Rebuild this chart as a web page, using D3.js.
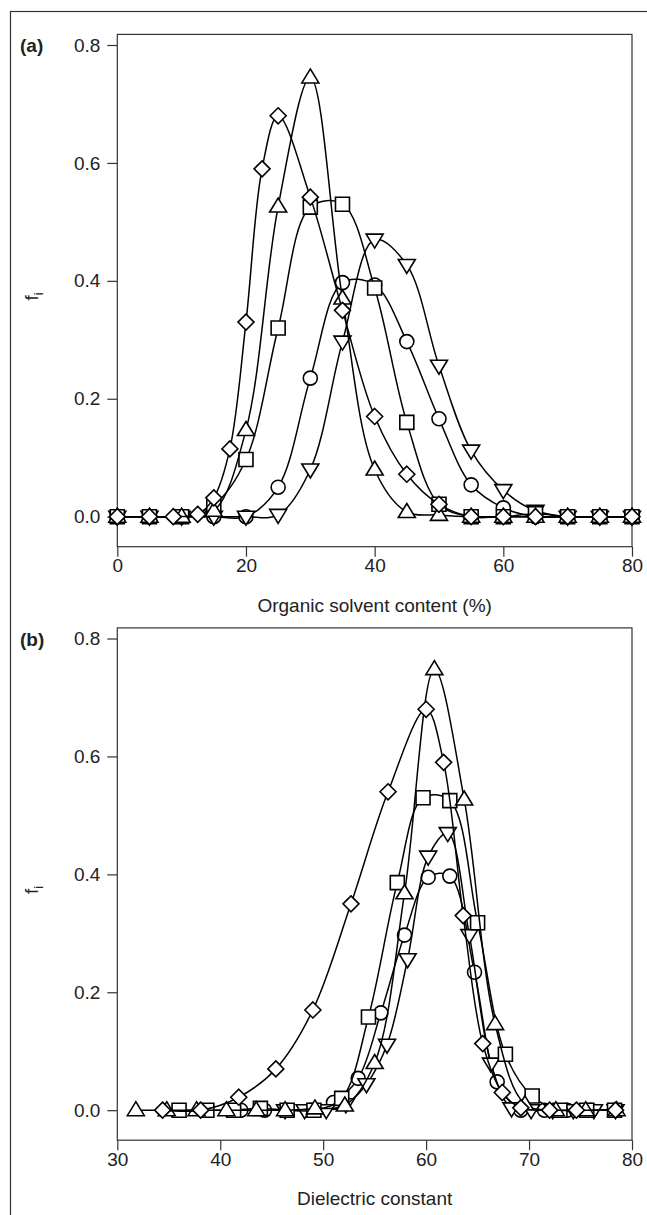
<!DOCTYPE html>
<html>
<head>
<meta charset="utf-8">
<script src="https://cdn.jsdelivr.net/npm/d3@7"></script>
<style>
  body { margin: 0; background: #fff; }
  svg text { font-family: "Liberation Sans", Arial, sans-serif; fill: #222; }
</style>
</head>
<body>
<div id="chart"></div>
<script>
//canvas size
const width = 647;
const height = 1215;

//panel (a): organic solvent content (%)
const pctDiamond = [0, 5, 8.7, 12.5, 15, 17.5, 20, 22.5, 25, 30, 35, 40, 45, 50, 55, 60, 65, 70, 75, 80];
const pctStep = [0, 5, 10, 15, 20, 25, 30, 35, 40, 45, 50, 55, 60, 65, 70, 75, 80];

const fDiamondA = [0, 0, 0, 0.004, 0.032, 0.115, 0.33, 0.59, 0.68, 0.542, 0.35, 0.17, 0.072, 0.021, 0, 0, 0, 0, 0, 0];
const fTriUpA = [0, 0, 0, 0.01, 0.147, 0.526, 0.745, 0.37, 0.08, 0.008, 0.003, 0, 0, 0, 0, 0, 0];
const fSquareA = [0, 0, 0, 0.02, 0.097, 0.32, 0.525, 0.53, 0.388, 0.16, 0.021, 0, 0, 0.005, 0, 0, 0];
const fCircleA = [0, 0, 0, 0, 0, 0.05, 0.235, 0.397, 0.393, 0.297, 0.166, 0.054, 0.015, 0, 0, 0, 0];
const fTriDownA = [0, 0, 0, 0, 0, 0.003, 0.08, 0.297, 0.47, 0.427, 0.256, 0.112, 0.045, 0.01, 0, 0, 0];

//panel (b): dielectric constant
const epsDiamond = [78.4, 74.6, 72.0, 69.2, 67.4, 65.5, 63.6, 61.7, 60.0, 56.3, 52.7, 49.0, 45.4, 41.8, 38.1, 34.4];
const epsTriUp = [78.5, 75.5, 72.6, 69.6, 66.7, 63.7, 60.8, 57.9, 55.0, 52.1, 49.2, 46.3, 43.5, 40.6, 37.7, 34.8, 31.8];
const epsSquare = [78.3, 75.6, 73.0, 70.3, 67.7, 65.0, 62.3, 59.7, 57.2, 54.4, 51.8, 49.1, 46.5, 43.9, 41.3, 38.7, 36.0];
const epsCircle = [78.3, 76.0, 73.7, 71.5, 69.2, 66.9, 64.7, 62.3, 60.2, 57.9, 55.6, 53.4, 51.0, 48.8, 46.5, 44.3, 42.0];
const epsTriDown = [78.4, 76.3, 74.3, 72.3, 70.2, 68.3, 66.3, 64.2, 62.1, 60.2, 58.2, 56.2, 54.2, 52.2, 50.3, 48.2, 46.3];

const fDiamondB = [0, 0, 0, 0.004, 0.03, 0.113, 0.33, 0.59, 0.68, 0.54, 0.35, 0.17, 0.07, 0.022, 0, 0];
const fTriUpB = [0, 0, 0, 0.01, 0.146, 0.527, 0.748, 0.368, 0.08, 0.008, 0.003, 0, 0, 0, 0, 0, 0];
const fSquareB = [0, 0, 0, 0.024, 0.095, 0.318, 0.525, 0.53, 0.386, 0.158, 0.02, 0, 0, 0.003, 0, 0, 0];
const fCircleB = [0, 0, 0, 0, 0, 0.048, 0.234, 0.397, 0.395, 0.297, 0.165, 0.054, 0.013, 0, 0, 0, 0];
const fTriDownB = [0, 0, 0, 0, 0, 0.003, 0.079, 0.297, 0.47, 0.43, 0.256, 0.111, 0.044, 0.01, 0, 0, 0];

//tick labels
const yTicks = [0, 0.2, 0.4, 0.6, 0.8];
const xTicksA = [0, 20, 40, 60, 80];
const xTicksB = [30, 40, 50, 60, 70, 80];

//marker shapes (white filled, black outline)
const shapes = {
  circle: "M7,0A7,7 0 1,1 -7,0A7,7 0 1,1 7,0Z",
  square: "M-7,-7H7V7H-7Z",
  diamond: "M0,-8L8,0L0,8L-8,0Z",
  triUp: "M0,-8.5L8.5,5.5L-8.5,5.5Z",
  triDown: "M0,8.5L8.5,-5.5L-8.5,-5.5Z"
};

const svg = d3.select("#chart")
  .append("svg")
  .attr("width", width)
  .attr("height", height);

//outer frame (runs off the right and bottom edges)
svg.append("rect")
  .attr("x", 10.5)
  .attr("y", 11.5)
  .attr("width", 700)
  .attr("height", 1300)
  .attr("fill", "none")
  .attr("stroke", "#333")
  .attr("stroke-width", 1.2);

function drawPanel(opts) {
  const x = d3.scaleLinear().domain(opts.xDomain).range([117.3, 632]);
  const y = d3.scaleLinear().domain([-0.0509, 0.818]).range([opts.top + 512.3, opts.top]);
  const g = svg.append("g");

  //plot box
  g.append("rect")
    .attr("x", x.range()[0])
    .attr("y", opts.top)
    .attr("width", x.range()[1] - x.range()[0])
    .attr("height", 512.3)
    .attr("fill", "none")
    .attr("stroke", "#333")
    .attr("stroke-width", 1.2);

  //y axis
  const yAxis = g.append("g")
    .attr("transform", `translate(${x.range()[0]},0)`)
    .call(d3.axisLeft(y).tickValues(yTicks).tickSize(10).tickPadding(7).tickFormat(d3.format(".1f")));
  yAxis.select(".domain").remove();

  //x axis
  const xAxis = g.append("g")
    .attr("transform", `translate(0,${y.range()[0]})`)
    .call(d3.axisBottom(x).tickValues(opts.xTicks).tickSize(10).tickPadding(2));
  xAxis.select(".domain").remove();

  g.selectAll(".tick line").attr("stroke", "#333").attr("stroke-width", 1.2);
  g.selectAll(".tick text").attr("font-size", "19px").attr("fill", "#222");

  //x axis title
  g.append("text")
    .attr("x", (x.range()[0] + x.range()[1]) / 2)
    .attr("y", y.range()[0] + 65)
    .attr("text-anchor", "middle")
    .attr("font-size", "19px")
    .text(opts.xTitle);

  //y axis title: f with subscript i
  const yt = g.append("text")
    .attr("transform", `translate(38,${opts.top + 262}) rotate(-90)`)
    .attr("text-anchor", "middle")
    .attr("font-size", "19px");
  yt.append("tspan").text("f");
  yt.append("tspan").attr("font-size", "13px").attr("dy", "5").text("i");

  //panel letter
  g.append("text")
    .attr("x", 20)
    .attr("y", y(0.8) + 7)
    .attr("font-size", "19px")
    .attr("font-weight", "bold")
    .text(opts.letter);

  const line = d3.line()
    .x((d) => x(d[0]))
    .y((d) => y(d[1]))
    .curve(d3.curveCatmullRom.alpha(0.5));

  opts.series.forEach((s) => {
    const pts = s.xs.map((v, i) => [v, s.ys[i]])
      .filter((d) => d[0] >= opts.xDomain[0] && d[0] <= opts.xDomain[1])
      .sort((a, b) => a[0] - b[0]);

    g.append("path")
      .datum(pts)
      .attr("d", line)
      .attr("fill", "none")
      .attr("stroke", "#000")
      .attr("stroke-width", 1.5);

    g.selectAll(null)
      .data(pts)
      .enter()
      .append("path")
      .attr("d", shapes[s.shape])
      .attr("transform", (d) => `translate(${x(d[0])},${y(d[1])})`)
      .attr("fill", "#fff")
      .attr("stroke", "#000")
      .attr("stroke-width", 1.6);
  });
}

drawPanel({
  top: 34.4,
  letter: "(a)",
  xDomain: [0, 80],
  xTicks: xTicksA,
  xTitle: "Organic solvent content (%)",
  series: [
    { shape: "circle", xs: pctStep, ys: fCircleA },
    { shape: "triDown", xs: pctStep, ys: fTriDownA },
    { shape: "square", xs: pctStep, ys: fSquareA },
    { shape: "triUp", xs: pctStep, ys: fTriUpA },
    { shape: "diamond", xs: pctDiamond, ys: fDiamondA }
  ]
});

drawPanel({
  top: 627.9,
  letter: "(b)",
  xDomain: [30, 80],
  xTicks: xTicksB,
  xTitle: "Dielectric constant",
  series: [
    { shape: "circle", xs: epsCircle, ys: fCircleB },
    { shape: "triDown", xs: epsTriDown, ys: fTriDownB },
    { shape: "square", xs: epsSquare, ys: fSquareB },
    { shape: "triUp", xs: epsTriUp, ys: fTriUpB },
    { shape: "diamond", xs: epsDiamond, ys: fDiamondB }
  ]
});
</script>
</body>
</html>
